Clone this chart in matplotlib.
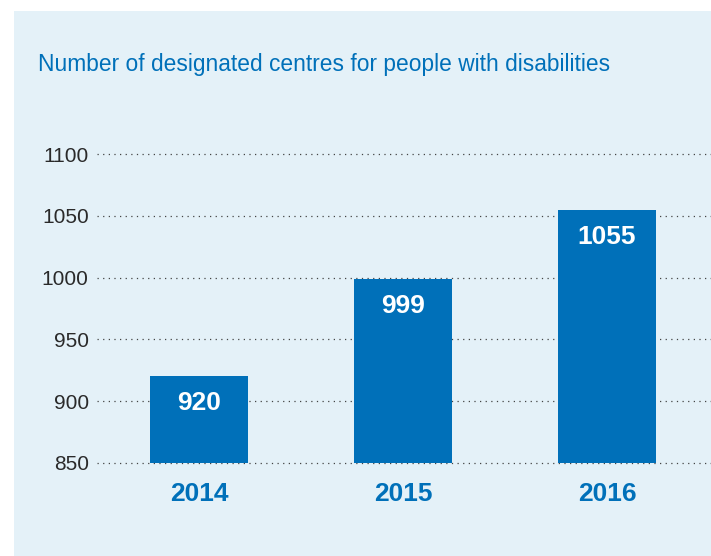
import matplotlib.pyplot as plt
from matplotlib.patches import Rectangle

# data
years = ["2014", "2015", "2016"]
centres = [920, 999, 1055]
y_ticks = [850, 900, 950, 1000, 1050, 1100]

blue = "#0070b9"
panel = "#e4f1f8"

plt.rcParams["font.family"] = ["Liberation Sans", "DejaVu Sans"]

fig = plt.figure(figsize=(7.11, 5.56), dpi=100)
fig.patch.set_facecolor("white")

# light blue panel behind everything
fig.patches.append(Rectangle((14 / 711, 0), 1, 1 - 11 / 556, transform=fig.transFigure,
                             facecolor=panel, edgecolor="none", zorder=-5))

ax = fig.add_axes([97 / 711, 1 - 463 / 556, 1 - 97 / 711, (463 - 154) / 556])
ax.set_facecolor("none")

x = range(len(years))
ax.bar(x, [c - 850 for c in centres], bottom=850, width=0.48, color=blue, zorder=3)

for i, v in enumerate(centres):
    ax.annotate(str(v), (i, v), xytext=(0, -27), textcoords="offset pixels",
                ha="center", va="center", color="white", fontsize=19,
                fontweight="bold", zorder=4)

ax.set_xlim(-0.5, 2.51)
ax.set_ylim(850, 1100)
ax.set_yticks(y_ticks)
ax.set_yticklabels([str(t) for t in y_ticks], fontsize=15, color="#2a2a2a")
ax.tick_params(axis="y", length=0, pad=6)
ax.set_xticks(list(x))
ax.set_xticklabels(years, fontsize=19, fontweight="bold", color=blue)
ax.tick_params(axis="x", length=0, pad=14)

for t in y_ticks:
    ax.axhline(t, color="#444444", linewidth=0.9, linestyle=(0, (1, 3.5)), zorder=1, clip_on=False)

for s in ax.spines.values():
    s.set_visible(False)

fig.text(38 / 711, 1 - 64 / 556, "Number of designated centres for people with disabilities",
         fontsize=16.4, color=blue, ha="left", va="center")

fig.savefig("out.png", dpi=100)
